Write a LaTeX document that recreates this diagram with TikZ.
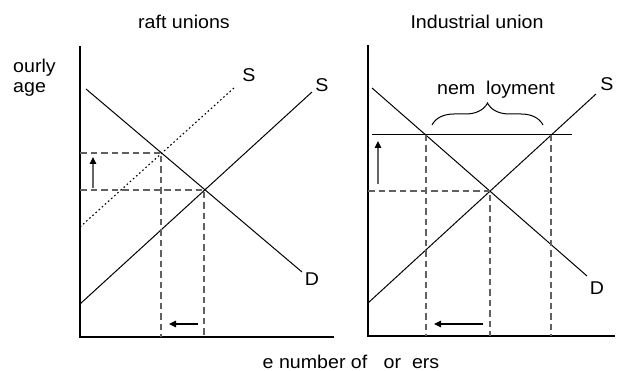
\documentclass[tikz,border=0pt]{standalone}
\usepackage{fontspec}
\setmainfont{Liberation Sans}
\usetikzlibrary{arrows.meta,decorations.pathreplacing}
\tikzset{
  axis/.style={line width=2pt, black},
  curve/.style={line width=1pt, black},
  dotcurve/.style={line width=1.1pt, black, dash pattern=on 1.6pt off 2.6pt},
  guide/.style={line width=1.1pt, black!62, dash pattern=on 6.5pt off 4pt},
  shift arrow/.style={line width=1.1pt, black!60, -{Triangle[length=7pt,width=6.5pt,black]}},
  lbl/.style={inner sep=0pt, font=\fontsize{18.5}{22}\selectfont},
}
\newcommand{\wide}[1]{\scalebox{1.06}[1]{#1}}
\begin{document}
\begin{tikzpicture}[x=1pt,y=-1pt]
\useasboundingbox (0,0) rectangle (619,371);
% ---------- left panel ----------
\coordinate (LO) at (80,337);
\coordinate (LT) at (80,46);
\coordinate (LR) at (334,337);
\draw[axis] (LT) -- (LO) -- (LR);
\coordinate (LD1) at (86,89);
\coordinate (LD2) at (302,272);
\coordinate (LS1) at (80,304);
\coordinate (LS2) at (312,92);
\coordinate (LP1) at (80,227);
\coordinate (LP2) at (235,87);
\draw[curve] (LD1) -- (LD2);
\draw[curve] (LS1) -- (LS2);
\draw[dotcurve] (LP1) -- (LP2);
\coordinate (LE) at (204,190);
\coordinate (LU) at (161,153);
\coordinate (LEy) at (80,190);
\coordinate (LUy) at (80,153);
\coordinate (LEx) at (204,337);
\coordinate (LUx) at (161,337);
\draw[guide] (LEy) -- (LE) -- (LEx);
\draw[guide] (LUy) -- (LU) -- (LUx);
\coordinate (LA1) at (93,188);
\coordinate (LA2) at (93,157);
\draw[shift arrow] (LA1) -- (LA2);
\coordinate (LB1) at (198,324);
\coordinate (LB2) at (169,324);
\draw[shift arrow, black] (LB1) -- (LB2);
\node[lbl] (tl) at (184,22) {\wide{raft unions}};
\node[lbl, anchor=west] (yl1) at (13,68) {\wide{ourly}};
\node[lbl, anchor=west] (yl2) at (13,89) {\wide{age}};
\node[lbl] (lsp) at (249,75) {\wide{S}};
\node[lbl] (lss) at (322,85) {\wide{S}};
\node[lbl] (ldd) at (312,279) {\wide{D}};
% ---------- right panel ----------
\coordinate (RO) at (368,336);
\coordinate (RT) at (368,45);
\coordinate (RR) at (615,336);
\draw[axis] (RT) -- (RO) -- (RR);
\coordinate (RD1) at (372,88);
\coordinate (RD2) at (587,276);
\coordinate (RS1) at (368,303);
\coordinate (RS2) at (596,94);
\draw[curve] (RD1) -- (RD2);
\draw[curve] (RS1) -- (RS2);
\coordinate (RW1) at (372,135);
\coordinate (RW2) at (572,135);
\draw[curve] (RW1) -- (RW2);
\coordinate (RE) at (490,191);
\coordinate (REy) at (368,191);
\coordinate (REx) at (490,336);
\coordinate (RA) at (426,135);
\coordinate (RAx) at (426,336);
\coordinate (RB) at (551,135);
\coordinate (RBx) at (551,336);
\draw[guide] (REy) -- (RE) -- (REx);
\draw[guide] (RA) -- (RAx);
\draw[guide] (RB) -- (RBx);
\coordinate (RU1) at (378,184);
\coordinate (RU2) at (378,141);
\draw[shift arrow] (RU1) -- (RU2);
\coordinate (RL1) at (483,324);
\coordinate (RL2) at (434,324);
\draw[shift arrow, black] (RL1) -- (RL2);
\coordinate (BR1) at (432,125);
\coordinate (BR2) at (543,125);
\draw[curve, decorate, decoration={brace, amplitude=22pt}] (BR1) -- (BR2);
\node[lbl] (tr) at (477,22) {\wide{Industrial union}};
\node[lbl] (un) at (496,90) {\wide{nem\ \ loyment}};
\node[lbl] (rss) at (607,84) {\wide{S}};
\node[lbl] (rdd) at (597,288) {\wide{D}};
% ---------- common label ----------
\node[lbl] (xl) at (351,362) {\wide{e number of\ \ \ or\ \ ers}};
\end{tikzpicture}
\end{document}
